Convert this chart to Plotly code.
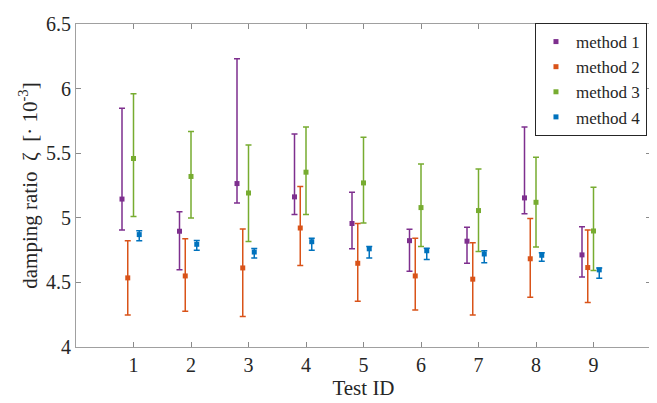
import plotly.graph_objects as go

test_ids = [1, 2, 3, 4, 5, 6, 7, 8, 9]
x_ticks = [1, 2, 3, 4, 5, 6, 7, 8, 9]
y_ticks = [4, 4.5, 5, 5.5, 6, 6.5]

m1_mean = [5.145, 4.896, 5.265, 5.162, 4.956, 4.823, 4.819, 5.154, 4.713]
m1_hi = [5.847, 5.047, 6.231, 5.649, 5.197, 4.911, 4.926, 5.702, 4.931]
m1_lo = [4.906, 4.597, 5.114, 5.026, 4.761, 4.587, 4.648, 5.032, 4.542]

m2_mean = [4.535, 4.550, 4.612, 4.921, 4.648, 4.550, 4.525, 4.683, 4.615]
m2_hi = [4.823, 4.838, 4.913, 5.242, 4.956, 4.841, 4.806, 4.994, 4.906]
m2_lo = [4.248, 4.276, 4.236, 4.630, 4.354, 4.286, 4.248, 4.386, 4.344]

m3_mean = [5.459, 5.320, 5.192, 5.353, 5.270, 5.079, 5.056, 5.120, 4.898]
m3_hi = [5.960, 5.667, 5.564, 5.702, 5.624, 5.416, 5.378, 5.468, 5.237]
m3_lo = [5.011, 4.999, 4.816, 5.026, 4.959, 4.778, 4.740, 4.774, 4.593]

m4_mean = [4.870, 4.795, 4.735, 4.815, 4.760, 4.745, 4.720, 4.710, 4.597]
m4_hi = [4.900, 4.825, 4.763, 4.841, 4.778, 4.765, 4.745, 4.730, 4.612]
m4_lo = [4.823, 4.748, 4.688, 4.748, 4.688, 4.678, 4.653, 4.663, 4.532]

series = [
    ("method 1", m1_mean, m1_hi, m1_lo, "#7E2F8E", -0.2),
    ("method 2", m2_mean, m2_hi, m2_lo, "#D95319", -0.1),
    ("method 3", m3_mean, m3_hi, m3_lo, "#77AC30", 0.0),
    ("method 4", m4_mean, m4_hi, m4_lo, "#0072BD", 0.1),
]

fig = go.Figure()
for name, mean, hi, lo, color, off in series:
    fig.add_trace(go.Scatter(
        x=[t + off for t in test_ids],
        y=mean,
        mode="markers",
        name=name,
        marker=dict(symbol="square", size=5, color=color),
        error_y=dict(
            type="data",
            symmetric=False,
            array=[h - m for h, m in zip(hi, mean)],
            arrayminus=[m - l for m, l in zip(mean, lo)],
            color=color,
            thickness=1.5,
            width=3,
        ),
    ))

font_family = "'Liberation Serif', 'DejaVu Serif', 'Times New Roman', Times, serif"
text_color = "#262626"
fig.update_layout(
    width=649,
    height=395,
    margin=dict(l=68, r=5, t=7, b=56, pad=0),
    paper_bgcolor="white",
    plot_bgcolor="white",
    font=dict(family=font_family, size=20, color=text_color),
    legend=dict(
        x=0.993, y=1.003, xanchor="right", yanchor="top",
        bgcolor="white", bordercolor=text_color, borderwidth=1,
        font=dict(family=font_family, size=17, color=text_color),
        tracegroupgap=0,
    ),
    showlegend=True,
)
fig.update_xaxes(
    range=[0, 10],
    tickvals=x_ticks,
    ticktext=[str(t) for t in x_ticks],
    ticks="inside", ticklen=5, tickcolor="#8a8a8a",
    showline=True, linecolor="#a0a0a0", linewidth=1, mirror="ticks",
    showgrid=False, zeroline=False, ticklabeloverflow="allow",
    tickfont=dict(family=font_family, size=20, color=text_color),
    title=dict(text="Test ID", font=dict(family=font_family, size=21, color=text_color), standoff=2),
)
fig.update_yaxes(
    range=[4, 6.5],
    tickvals=y_ticks,
    ticktext=["4", "4.5", "5", "5.5", "6", "6.5"],
    ticks="inside", ticklen=5, tickcolor="#8a8a8a",
    showline=True, linecolor="#a0a0a0", linewidth=1, mirror="ticks",
    showgrid=False, zeroline=False, ticklabeloverflow="allow",
    tickfont=dict(family=font_family, size=20, color=text_color),
    title=dict(text="damping ratio  ζ  [· 10<sup>-3</sup>]",
               font=dict(family=font_family, size=21, color=text_color), standoff=2),
)

fig.write_html("out.html")
